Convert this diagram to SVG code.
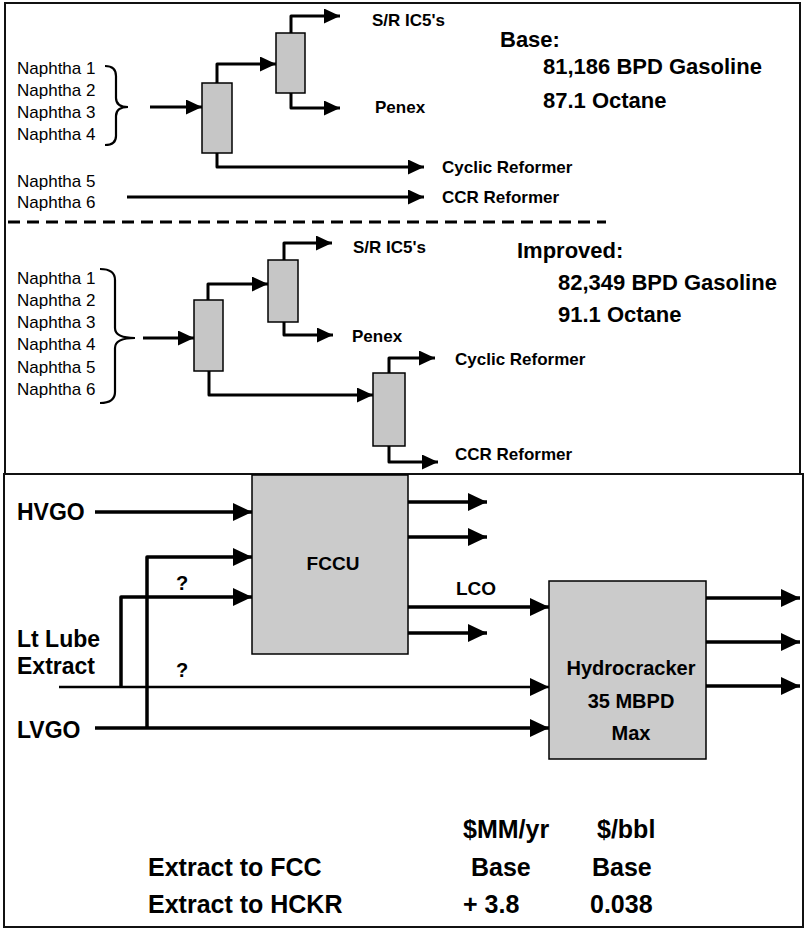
<svg xmlns="http://www.w3.org/2000/svg" width="804" height="930" viewBox="0 0 804 930">
<style>
.frame{fill:none;stroke:#111;stroke-width:2}
.col{fill:#c6c6c6;stroke:#000;stroke-width:1.5}
.box{fill:#cbcbcb;stroke:#000;stroke-width:1.5}
.ln{fill:none;stroke:#000;stroke-width:3;stroke-linejoin:round}
.lnb{fill:none;stroke:#000;stroke-width:3.5;stroke-linejoin:round}
.lnt{fill:none;stroke:#000;stroke-width:2.6}
.brace{fill:none;stroke:#000;stroke-width:2.2}
.dash{fill:none;stroke:#000;stroke-width:3;stroke-dasharray:12 7}
.reg{font-family:"Liberation Sans",Arial,sans-serif;font-size:17px;fill:#000}
.lab{font-family:"Liberation Sans",Arial,sans-serif;font-size:17px;font-weight:bold;fill:#000}
.big{font-family:"Liberation Sans",Arial,sans-serif;font-size:22px;font-weight:bold;fill:#000}
.feed{font-family:"Liberation Sans",Arial,sans-serif;font-size:23px;font-weight:bold;fill:#000}
.unit{font-family:"Liberation Sans",Arial,sans-serif;font-size:20px;font-weight:bold;fill:#000;text-anchor:middle}
.tbl{font-family:"Liberation Sans",Arial,sans-serif;font-size:25px;font-weight:bold;fill:#000}
</style>
<defs>
<marker id="at" markerUnits="userSpaceOnUse" markerWidth="18" markerHeight="16" refX="16" refY="7.5" orient="auto">
<path d="M0,0 L16,7.5 L0,15 Z" fill="#000"/>
</marker>
<marker id="ab" markerUnits="userSpaceOnUse" markerWidth="21" markerHeight="19" refX="19" refY="9" orient="auto">
<path d="M0,0 L19,9 L0,18 Z" fill="#000"/>
</marker>
</defs>

<rect class="frame" x="5" y="3" width="795" height="471"/>
<rect class="frame" x="4" y="474" width="799" height="453"/>

<!-- Base section -->
<g id="base-feeds">
<text class="reg" x="17" y="74">Naphtha 1</text>
<text class="reg" x="17" y="96">Naphtha 2</text>
<text class="reg" x="17" y="118">Naphtha 3</text>
<text class="reg" x="17" y="140">Naphtha 4</text>
<text class="reg" x="17" y="187">Naphtha 5</text>
<text class="reg" x="17" y="208">Naphtha 6</text>
<path class="brace" d="M105,66 Q116,66 116,76 V98 Q116,107 128,107 Q116,107 116,116 V136 Q116,145 105,145"/>
</g>
<g id="base-col1"><rect class="col" x="202" y="83" width="30" height="70"/></g>
<g id="base-col2"><rect class="col" x="276" y="33" width="29" height="60"/></g>
<g id="base-labels">
<text class="lab" x="372" y="26">S/R IC5's</text>
<text class="lab" x="375" y="113">Penex</text>
<text class="lab" x="442" y="173">Cyclic Reformer</text>
<text class="lab" x="442" y="203">CCR Reformer</text>
<text class="big" x="500" y="47">Base:</text>
<text class="big" x="543" y="74">81,186 BPD Gasoline</text>
<text class="big" x="543" y="108">87.1 Octane</text>
</g>

<line class="dash" x1="8" y1="222" x2="606" y2="222"/>

<!-- Improved section -->
<g id="imp-feeds">
<text class="reg" x="17" y="284">Naphtha 1</text>
<text class="reg" x="17" y="306">Naphtha 2</text>
<text class="reg" x="17" y="328">Naphtha 3</text>
<text class="reg" x="17" y="350">Naphtha 4</text>
<text class="reg" x="17" y="373">Naphtha 5</text>
<text class="reg" x="17" y="395">Naphtha 6</text>
<path class="brace" d="M100,269 Q115,269 115,280 V328 Q115,338 135,338 Q115,338 115,348 V392 Q115,403 100,403"/>
</g>
<g id="imp-col1"><rect class="col" x="194" y="300" width="29" height="71"/></g>
<g id="imp-col2"><rect class="col" x="268" y="260" width="30" height="62"/></g>
<g id="imp-col3"><rect class="col" x="373" y="373" width="32" height="73"/></g>
<g id="imp-labels">
<text class="lab" x="353" y="253">S/R IC5's</text>
<text class="lab" x="352" y="342">Penex</text>
<text class="lab" x="455" y="365">Cyclic Reformer</text>
<text class="lab" x="455" y="460">CCR Reformer</text>
<text class="big" x="517" y="258">Improved:</text>
<text class="big" x="558" y="290">82,349 BPD Gasoline</text>
<text class="big" x="558" y="322">91.1 Octane</text>
</g>

<!-- Bottom section nodes -->
<g id="fccu">
<rect class="box" x="252" y="475" width="156" height="179"/>
<text class="unit" x="333" y="570" style="font-size:19px">FCCU</text>
</g>
<g id="hydrocracker">
<rect class="box" x="549" y="581" width="157" height="178"/>
<text class="unit" x="631" y="675">Hydrocracker</text>
<text class="unit" x="631" y="708">35 MBPD</text>
<text class="unit" x="631" y="740">Max</text>
</g>
<g id="feeds">
<text class="feed" x="17" y="520">HVGO</text>
<text class="feed" x="17" y="647">Lt Lube</text>
<text class="feed" x="17" y="674">Extract</text>
<text class="feed" x="17" y="738">LVGO</text>
<text class="unit" x="182" y="590">?</text>
<text class="unit" x="182" y="677">?</text>
<text class="unit" x="476" y="595" style="font-size:19px">LCO</text>
</g>
<g id="table">
<text class="tbl" x="463" y="838">$MM/yr</text>
<text class="tbl" x="597" y="838">$/bbl</text>
<text class="tbl" x="148" y="876">Extract to FCC</text>
<text class="tbl" x="471" y="876">Base</text>
<text class="tbl" x="592" y="876">Base</text>
<text class="tbl" x="148" y="913">Extract to HCKR</text>
<text class="tbl" x="463" y="913">+ 3.8</text>
<text class="tbl" x="590" y="913">0.038</text>
</g>

<!-- Connectors -->
<g id="connectors">
<path class="ln" d="M150,107 H202" marker-end="url(#at)"/>
<path class="ln" d="M217,83 V64 H276" marker-end="url(#at)"/>
<path class="ln" d="M291,33 V16 H340" marker-end="url(#at)"/>
<path class="ln" d="M291,93 V108 H340" marker-end="url(#at)"/>
<path class="ln" d="M217,153 V167 H424" marker-end="url(#at)"/>
<path class="ln" d="M127,197 H424" marker-end="url(#at)"/>

<path class="ln" d="M143,338 H194" marker-end="url(#at)"/>
<path class="ln" d="M208,300 V284 H268" marker-end="url(#at)"/>
<path class="ln" d="M284,260 V243 H332" marker-end="url(#at)"/>
<path class="ln" d="M284,322 V335 H333" marker-end="url(#at)"/>
<path class="ln" d="M209,371 V395 H373" marker-end="url(#at)"/>
<path class="ln" d="M389,373 V358 H435" marker-end="url(#at)"/>
<path class="ln" d="M389,446 V462 H438" marker-end="url(#at)"/>

<path class="lnb" d="M95,512 H252" marker-end="url(#ab)"/>
<path class="lnb" d="M147,728 V557 H252" marker-end="url(#ab)"/>
<path class="lnb" d="M121,687 V597 H252" marker-end="url(#ab)"/>
<path class="lnt" d="M59,687 H549" marker-end="url(#ab)"/>
<path class="lnb" d="M95,728 H549" marker-end="url(#ab)"/>
<path class="lnb" d="M408,607 H549" marker-end="url(#ab)"/>
<path class="lnb" d="M408,502 H487" marker-end="url(#ab)"/>
<path class="lnb" d="M408,537 H487" marker-end="url(#ab)"/>
<path class="lnb" d="M408,633 H487" marker-end="url(#ab)"/>
<path class="lnb" d="M706,598 H800" marker-end="url(#ab)"/>
<path class="lnb" d="M706,642 H800" marker-end="url(#ab)"/>
<path class="lnb" d="M706,686 H800" marker-end="url(#ab)"/>
</g>
</svg>
